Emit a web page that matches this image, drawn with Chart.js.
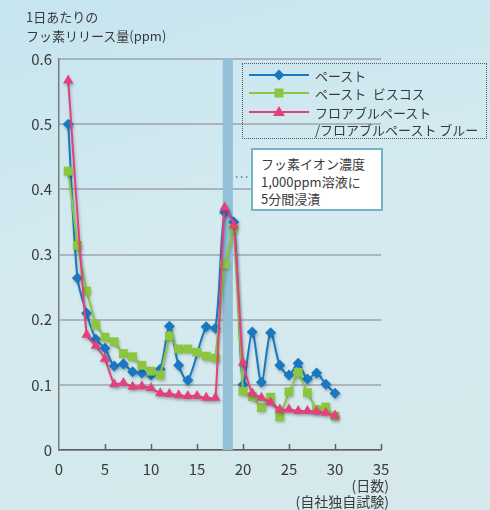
<!DOCTYPE html>
<html lang="ja">
<head>
<meta charset="utf-8">
<script src="https://cdn.jsdelivr.net/npm/chart.js@4.4.1/dist/chart.umd.min.js"></script>
<style>
    body {
        margin: 0;
        width: 490px;
        height: 510px;
        position: relative;
        overflow: hidden;
        background: linear-gradient(165deg, #c6e5f0 0%, #d4eaef 45%, #d5e9ec 100%);
        font-family: "Noto Sans CJK JP", "Noto Sans", sans-serif;
        color: #3a3a3a;
    }
    #chart { position: absolute; left: 0; top: 0; }
    .txt { position: absolute; white-space: nowrap; }
    #legend {
        position: absolute;
        left: 242px; top: 63px; width: 245px; height: 76px;
        border: 1.5px dotted #5a5a5a;
        box-sizing: border-box;
    }
    .row { position: absolute; left: 6px; display: flex; align-items: flex-start; font-size: 13px; line-height: 17px; }
    .row svg { margin-right: 6px; margin-top: 1px; }
    #note {
        position: absolute;
        left: 251px; top: 148px; width: 132px; height: 63px;
        background: #fff;
        border: 2px solid #76b2c9;
        box-sizing: border-box;
        font-size: 13px; line-height: 17.5px;
        padding: 5px 0 0 8px;
    }
</style>
</head>
<body>
<canvas id="chart" width="490" height="510"></canvas>

<div class="txt" style="left:26px; top:7px; font-size:13px; line-height:19px;">1日あたりの<br>フッ素リリース量(ppm)</div>

<div id="legend">
    <div class="row" style="top:3px;">
        <svg width="60" height="14"><line x1="0" y1="7" x2="60" y2="7" stroke="#1a78c2" stroke-width="2"/><polygon points="30,1.5 35.5,7 30,12.5 24.5,7" fill="#1a78c2"/></svg>
        <span>ペースト</span>
    </div>
    <div class="row" style="top:21px;">
        <svg width="60" height="14"><line x1="0" y1="7" x2="60" y2="7" stroke="#8cc63f" stroke-width="2"/><rect x="25.5" y="2.5" width="9" height="9" fill="#8cc63f"/></svg>
        <span>ペースト&#8194;ビスコス</span>
    </div>
    <div class="row" style="top:40px;">
        <svg width="60" height="14"><line x1="0" y1="7" x2="60" y2="7" stroke="#e5407a" stroke-width="2"/><polygon points="30,1 36,11 24,11" fill="#e5407a"/></svg>
        <span>フロアブルペースト<br>/フロアブルペースト ブルー</span>
    </div>
</div>

<div id="note">フッ素イオン濃度<br>1,000ppm溶液に<br>5分間浸漬</div>

<div class="txt" style="right:101px; top:476px; font-size:14px; line-height:18px;">(日数)</div>
<div class="txt" style="right:101px; top:492px; font-size:14px; line-height:18px;">(自社独自試験)</div>

<script>
// measurement days and fluoride release (ppm) per day
const pasteDays = [1, 2, 3, 4, 5, 6, 7, 8, 9, 10, 11, 12, 13, 14, 16, 17, 18, 19, 20, 21, 22, 23, 24, 25, 26, 27, 28, 29, 30];
const pasteValues = [0.50, 0.264, 0.21, 0.17, 0.156, 0.129, 0.132, 0.12, 0.118, 0.115, 0.124, 0.19, 0.13, 0.107,
    0.189, 0.187, 0.365, 0.35, 0.10, 0.181, 0.104, 0.18, 0.13, 0.115, 0.133, 0.109, 0.118, 0.101, 0.087];

const viscousDays = [1, 2, 3, 4, 5, 6, 7, 8, 9, 10, 11, 12, 13, 14, 15, 16, 17, 18, 19, 20, 21, 22, 23, 24, 25, 26, 27, 28, 29, 30];
const viscousValues = [0.428, 0.314, 0.244, 0.192, 0.173, 0.166, 0.148, 0.143, 0.13, 0.121, 0.115, 0.175, 0.155, 0.155,
    0.15, 0.144, 0.141, 0.285, 0.34, 0.09, 0.082, 0.065, 0.081, 0.051, 0.089, 0.119, 0.088, 0.062, 0.066, 0.052];

const flowableDays = [1, 3, 4, 5, 6, 7, 8, 9, 10, 11, 12, 13, 14, 15, 16, 17, 18, 19, 20, 21, 22, 23, 24, 25, 26, 27, 28, 29, 30];
const flowableValues = [0.567, 0.177, 0.16, 0.14, 0.101, 0.103, 0.097, 0.098, 0.095, 0.087, 0.086, 0.084, 0.083, 0.083,
    0.08, 0.08, 0.372, 0.345, 0.134, 0.087, 0.08, 0.073, 0.062, 0.062, 0.06, 0.06, 0.059, 0.057, 0.053];

const xTicks = [0, 5, 10, 15, 20, 25, 30, 35];
const yTicks = [0, 0.1, 0.2, 0.3, 0.4, 0.5, 0.6];

// immersion period (shaded band)
const immersionStart = 17.8;
const immersionEnd = 18.9;

const colors = {
    paste: '#1a78c2',
    viscous: '#8cc63f',
    flowable: '#e5407a',
    band: '#93c0d7',
    grid: 'rgba(150, 150, 162, 0.65)',
    axis: '#5f5f5f',
    text: '#3a3a3a',
};

const toPoints = (days, values) => days.map((d, i) => ({ x: d, y: values[i] }));

/**
 * Shaded immersion band behind the lines, plus soft shadow on the series
 */
const bandPlugin = {
    id: 'band',
    beforeDatasetsDraw(chart) {
        const { ctx, chartArea, scales } = chart;
        const x0 = scales.x.getPixelForValue(immersionStart);
        const x1 = scales.x.getPixelForValue(immersionEnd);
        ctx.save();
        ctx.fillStyle = colors.band;
        ctx.fillRect(x0, chartArea.top, x1 - x0, chartArea.bottom - chartArea.top);
        ctx.restore();

        ctx.save();
        ctx.shadowColor = 'rgba(0, 40, 60, 0.28)';
        ctx.shadowBlur = 3;
        ctx.shadowOffsetX = 1;
        ctx.shadowOffsetY = 2;
    },
    afterDatasetsDraw(chart) {
        chart.ctx.restore();
    },
    afterDraw(chart) {
        const { ctx, chartArea, scales } = chart;
        // inward tick marks on the x axis
        ctx.save();
        ctx.strokeStyle = colors.axis;
        ctx.lineWidth = 1.5;
        xTicks.slice(1).forEach(v => {
            const px = Math.round(scales.x.getPixelForValue(v)) + 0.5;
            ctx.beginPath();
            ctx.moveTo(px, chartArea.bottom);
            ctx.lineTo(px, chartArea.bottom - 6);
            ctx.stroke();
        });
        // dotted leader from band to note box
        const y = scales.y.getPixelForValue(0.419);
        ctx.strokeStyle = '#4d9fc6';
        ctx.lineWidth = 2;
        ctx.setLineDash([1.5, 3.5]);
        ctx.beginPath();
        ctx.moveTo(scales.x.getPixelForValue(immersionEnd) + 3, y);
        ctx.lineTo(250, y);
        ctx.stroke();
        ctx.restore();
    }
};

new Chart(document.getElementById('chart'), {
    type: 'line',
    data: {
        datasets: [
            {
                label: 'フロアブルペースト/フロアブルペースト ブルー',
                data: toPoints(flowableDays, flowableValues),
                borderColor: colors.flowable,
                backgroundColor: colors.flowable,
                pointStyle: 'triangle',
                pointRadius: 6,
                tension: 0.15,
                order: 0,
            },
            {
                label: 'ペースト ビスコス',
                data: toPoints(viscousDays, viscousValues),
                borderColor: colors.viscous,
                backgroundColor: colors.viscous,
                pointStyle: 'rect',
                pointRadius: 6.3,
                tension: 0,
                order: 1,
            },
            {
                label: 'ペースト',
                data: toPoints(pasteDays, pasteValues),
                borderColor: colors.paste,
                backgroundColor: colors.paste,
                pointStyle: 'rectRot',
                pointRadius: 5.5,
                tension: 0.3,
                order: 2,
            },
        ].map(ds => ({ ...ds, borderWidth: 2, pointBorderWidth: 0, fill: false })),
    },
    options: {
        responsive: false,
        animation: false,
        devicePixelRatio: 1,
        layout: { padding: { top: 59, right: 109, left: 0, bottom: 0 } },
        plugins: {
            legend: { display: false },
            tooltip: { enabled: false },
        },
        scales: {
            x: {
                type: 'linear',
                min: 0,
                max: 35,
                afterFit: s => { s.height = 60; },
                afterBuildTicks: s => { s.ticks = xTicks.map(v => ({ value: v })); },
                grid: { display: false, drawTicks: false },
                border: { display: true, color: colors.axis, width: 1.5 },
                ticks: {
                    padding: 10,
                    color: colors.text,
                    font: { family: '"Noto Sans CJK JP", sans-serif', size: 15 },
                },
            },
            y: {
                min: 0,
                max: 0.6,
                afterFit: s => { s.width = 59; },
                afterBuildTicks: s => { s.ticks = yTicks.map(v => ({ value: v })); },
                grid: { color: colors.grid, lineWidth: 2, drawTicks: false },
                border: { display: true, color: '#7a7a7a', width: 1.5 },
                ticks: {
                    padding: 7,
                    color: colors.text,
                    font: { family: '"Noto Sans CJK JP", sans-serif', size: 15 },
                    callback: v => (v === 0 ? '0' : v.toFixed(1)),
                },
            },
        },
    },
    plugins: [bandPlugin],
});
</script>
</body>
</html>
